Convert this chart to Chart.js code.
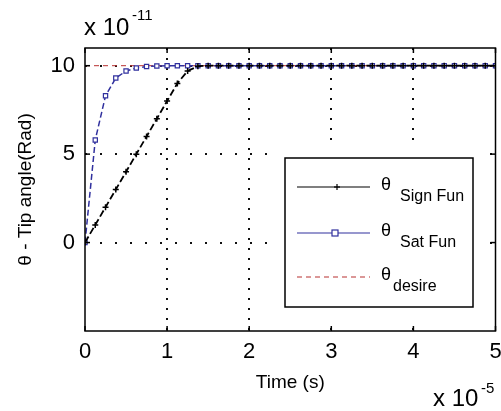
<!doctype html>
<html lang="en">
  <head>
    <meta charset="UTF-8" />
    <title>Tip angle</title>
    <style>
      html, body { margin: 0; padding: 0; background: #fff; }
      canvas { display: block; }
    </style>
  </head>

  <body>
    <canvas id="chart" width="501" height="411"></canvas>

    <script src="https://cdn.jsdelivr.net/npm/chart.js@4"></script>

    <script>
      // time axis, in units of 1e-5 s
      const timeS = [
        0, 0.125, 0.25, 0.375, 0.5, 0.625, 0.75, 0.875, 1, 1.125,
        1.25, 1.375, 1.5, 1.625, 1.75, 1.875, 2, 2.125, 2.25, 2.375,
        2.5, 2.625, 2.75, 2.875, 3, 3.125, 3.25, 3.375, 3.5, 3.625,
        3.75, 3.875, 4, 4.125, 4.25, 4.375, 4.5, 4.625, 4.75, 4.875, 5,
      ]
      // tip angle, in units of 1e-11 rad
      const signFun = [
        0, 1.0, 2.0, 3.0, 4.0, 5.0, 6.0, 7.0, 8.0, 9.0,
        9.7, 9.97, 10, 10, 10, 10, 10, 10, 10, 10,
        10, 10, 10, 10, 10, 10, 10, 10, 10, 10,
        10, 10, 10, 10, 10, 10, 10, 10, 10, 10, 10,
      ]
      const satFun = [
        0, 5.8, 8.3, 9.3, 9.7, 9.87, 9.95, 9.98, 10, 10,
        10, 10, 10, 10, 10, 10, 10, 10, 10, 10,
        10, 10, 10, 10, 10, 10, 10, 10, 10, 10,
        10, 10, 10, 10, 10, 10, 10, 10, 10, 10, 10,
      ]
      const desireTime = [0, 5]
      const desireVal = [10, 10]

      const xTicks = [0, 1, 2, 3, 4, 5]
      const yTicks = [0, 5, 10]

      const FONT = '"Liberation Sans", Arial, sans-serif'
      const BLUE = '#30309e'
      const RED = '#b83030'

      const pts = (xs, ys) => xs.map((x, i) => ({ x, y: ys[i] }))

      // matlab style frame, inward ticks, exponents and legend box
      const matlabFrame = {
        id: 'matlabFrame',
        afterDraw(chart) {
          const { ctx, chartArea: a, scales } = chart
          const line = (x1, y1, x2, y2) => {
            ctx.beginPath()
            ctx.moveTo(x1, y1)
            ctx.lineTo(x2, y2)
            ctx.stroke()
          }
          ctx.save()

          // legend
          ctx.fillStyle = '#fff'
          ctx.fillRect(276, 143, 212, 183)
          ctx.strokeStyle = '#000'
          ctx.lineWidth = 1.5
          ctx.strokeRect(285, 158, 188, 149)

          const rows = [
            { y: 187, color: '#000', dash: [], marker: 'plus', sub: 'Sign Fun' },
            { y: 233, color: BLUE, dash: [], marker: 'square', sub: 'Sat Fun' },
            { y: 277, color: RED, dash: [5, 4], marker: null, sub: 'desire' },
          ]
          rows.forEach((r) => {
            ctx.strokeStyle = r.color
            ctx.lineWidth = 1.2
            ctx.setLineDash(r.dash)
            line(297, r.y, 370, r.y)
            ctx.setLineDash([])
            if (r.marker === 'plus') {
              line(334, r.y, 340, r.y)
              line(337, r.y - 3, 337, r.y + 3)
            } else if (r.marker === 'square') {
              ctx.fillStyle = '#fff'
              ctx.fillRect(332, r.y - 3, 6, 6)
              ctx.strokeRect(332, r.y - 3, 6, 6)
            }
            ctx.fillStyle = '#000'
            ctx.textBaseline = 'middle'
            ctx.textAlign = 'left'
            ctx.font = `18px ${FONT}`
            ctx.fillText('\u03b8', 381, r.y - 2)
            ctx.font = `16px ${FONT}`
            ctx.fillText(r.sub, r.sub === 'desire' ? 393 : 400, r.y + 10)
          })

          // frame + inward ticks
          ctx.strokeStyle = '#000'
          ctx.lineWidth = 1.5
          ctx.strokeRect(a.left, a.top, a.right - a.left, a.bottom - a.top)
          xTicks.forEach((v) => {
            const px = scales.x.getPixelForValue(v)
            line(px, a.bottom, px, a.bottom - 5)
            line(px, a.top, px, a.top + 5)
          })
          yTicks.forEach((v) => {
            const py = scales.y.getPixelForValue(v)
            line(a.left, py, a.left + 5, py)
            line(a.right, py, a.right - 5, py)
          })

          // exponent multipliers
          ctx.fillStyle = '#000'
          ctx.textAlign = 'left'
          ctx.textBaseline = 'alphabetic'
          ctx.font = `24px ${FONT}`
          ctx.fillText('x 10', 84, 35)
          ctx.fillText('x 10', 433, 406)
          ctx.font = `15px ${FONT}`
          ctx.fillText('-11', 132, 20)
          ctx.fillText('-5', 481, 393)
          ctx.restore()
        },
      }

      new Chart(document.getElementById('chart'), {
        type: 'line',
        data: {
          datasets: [
            {
              label: '\u03b8 Sign Fun',
              data: pts(timeS, signFun),
              borderColor: '#000',
              borderWidth: 1.8,
              borderDash: [7, 3],
              pointStyle: 'cross',
              pointRadius: 3,
              pointBorderColor: '#000',
              pointBorderWidth: 1.5,
              tension: 0,
            },
            {
              label: '\u03b8 Sat Fun',
              data: pts(timeS, satFun),
              borderColor: BLUE,
              borderWidth: 1.5,
              borderDash: [6, 3],
              pointStyle: 'rect',
              pointRadius: 3,
              pointBorderColor: BLUE,
              pointBackgroundColor: '#fff',
              pointBorderWidth: 1.2,
              tension: 0,
            },
            {
              label: '\u03b8 desire',
              data: pts(desireTime, desireVal),
              borderColor: RED,
              borderWidth: 1,
              borderDash: [5, 4],
              pointRadius: 0,
              tension: 0,
              order: 1,
            },
          ],
        },
        options: {
          responsive: false,
          animation: false,
          layout: { padding: { top: 48, right: 5, bottom: 0, left: 0 } },
          plugins: {
            legend: { display: false },
            tooltip: { enabled: false },
          },
          scales: {
            x: {
              type: 'linear',
              min: 0,
              max: 5,
              afterBuildTicks: (s) => {
                s.ticks = xTicks.map((v) => ({ value: v }))
              },
              afterFit: (s) => {
                s.height = 80
                s.paddingLeft = 0
                s.paddingRight = 0
              },
              ticks: { color: '#000', padding: 8, font: { family: FONT, size: 22 } },
              grid: {
                color: (c) => (c.tick && (c.tick.value === 0 || c.tick.value === 5) ? 'transparent' : '#111'),
                lineWidth: 2,
                drawTicks: false,
              },
              border: { display: false, dash: [2, 8] },
              title: {
                display: true,
                text: 'Time (s)',
                color: '#000',
                font: { family: FONT, size: 19 },
                padding: { top: 0, bottom: 17 },
              },
            },
            y: {
              type: 'linear',
              min: -5,
              max: 11,
              afterBuildTicks: (s) => {
                s.ticks = yTicks.map((v) => ({ value: v }))
              },
              afterFit: (s) => {
                s.width = 85
                s.paddingTop = 0
                s.paddingBottom = 0
              },
              ticks: { color: '#000', padding: 10, font: { family: FONT, size: 22 } },
              grid: { color: '#111', lineWidth: 2, drawTicks: false },
              border: { display: false, dash: [2, 13] },
              title: {
                display: true,
                text: '\u03b8 - Tip angle(Rad)',
                color: '#000',
                font: { family: FONT, size: 19 },
                padding: { top: 14, bottom: 0 },
              },
            },
          },
        },
        plugins: [matlabFrame],
      })
    </script>
  </body>
</html>
